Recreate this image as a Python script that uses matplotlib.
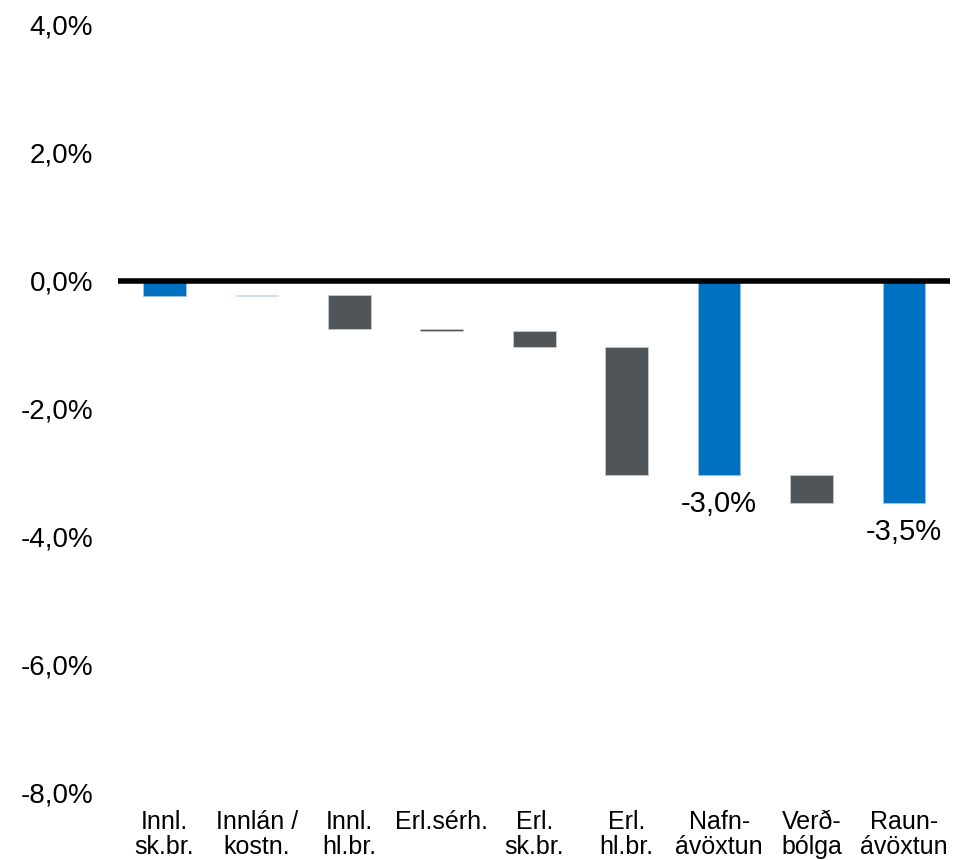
import numpy as np
import matplotlib
matplotlib.use('Agg')
import matplotlib.pyplot as plt
from matplotlib import font_manager

# Categories and step values (percent)
categories = ['Innl.\nsk.br.', 'Innlán /\nkostn.', 'Innl.\nhl.br.', 'Erl.sérh.', 'Erl.\nsk.br.',
              'Erl.\nhl.br.', 'Nafn-\návöxtun', 'Verð-\nbólga', 'Raun-\návöxtun']
changes = [-0.24, 0.02, -0.53, -0.04, -0.24, -2.00, 0.0, -0.44, 0.0]
is_total = [False, False, False, False, False, False, True, False, True]
bar_colors = ['#0070C0', '#C5DFF3', '#505559', '#505559', '#505559',
              '#505559', '#0070C0', '#505559', '#0070C0']
edge_colors = ['#9DC3E6', '#C5DFF3', '#C8C8C8', '#C8C8C8', '#C8C8C8',
               '#C8C8C8', '#9DC3E6', '#C8C8C8', '#9DC3E6']
yticks = [-8, -6, -4, -2, 0, 2, 4]

# Build waterfall bottoms/heights
starts = []
ends = []
running = 0.0
for c, tot in zip(changes, is_total):
    if tot:
        starts.append(0.0)
        ends.append(running)
    else:
        starts.append(running)
        running = running + c
        ends.append(running)
starts = np.array(starts)
ends = np.array(ends)

# Fonts
names = {f.name for f in font_manager.fontManager.ttflist}
narrow = 'Liberation Sans Narrow' if 'Liberation Sans Narrow' in names else 'Liberation Sans'
plt.rcParams['font.family'] = ['Liberation Sans', 'DejaVu Sans']

fig = plt.figure(figsize=(9.6, 8.6), dpi=100)
ax = fig.add_axes([0.123, 0.078, 0.867, 0.893])

x = np.arange(len(categories))
ax.bar(x, ends - starts, bottom=starts, width=0.46, color=bar_colors,
       edgecolor=edge_colors, linewidth=0.6, zorder=2)

# zero line
ax.axhline(0, color='black', linewidth=4, zorder=3)

# total labels
for i in range(len(categories)):
    if is_total[i]:
        txt = '{:.1f}%'.format(ends[i]).replace('.', ',')
        ax.annotate(txt, (x[i], ends[i]), xytext=(0, -11), textcoords='offset points',
                    ha='center', va='top', fontsize=21)

ax.set_xlim(-0.5, len(categories) - 0.5)
ax.set_ylim(-8, 4)
ax.set_yticks(yticks)
ax.set_yticklabels(['{:.1f}%'.format(v).replace('.', ',') for v in yticks], fontsize=20)
ax.set_xticks(x)
ax.set_xticklabels(categories, fontsize=18, family=narrow, linespacing=1.05)
ax.tick_params(axis='both', length=0)
ax.tick_params(axis='y', pad=18)
ax.tick_params(axis='x', pad=12)

for s in ax.spines.values():
    s.set_visible(False)

plt.savefig('out.png', dpi=100)
plt.close()
